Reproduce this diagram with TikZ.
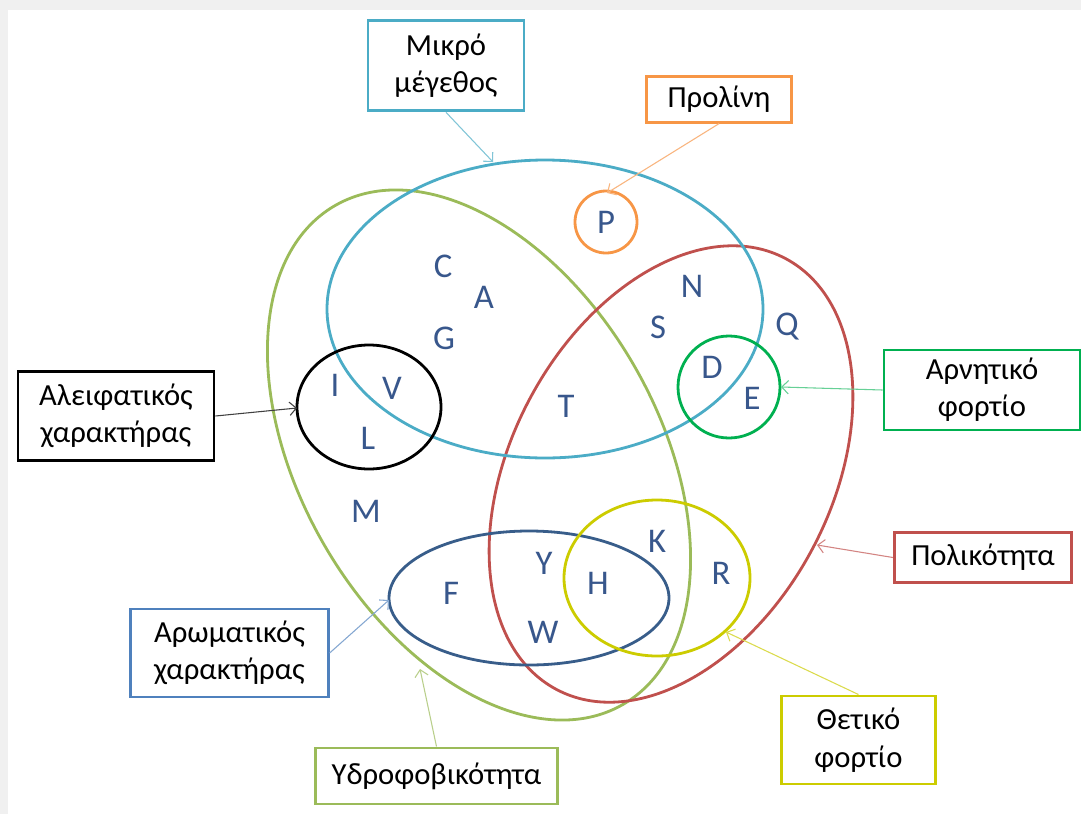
\documentclass[tikz,border=0pt]{standalone}
\usepackage{fontspec}
\setmainfont{Carlito}
\usetikzlibrary{arrows.meta}
\definecolor{smallcol}{RGB}{75,172,198}
\definecolor{prolcol}{RGB}{247,150,70}
\definecolor{negcol}{RGB}{0,176,80}
\definecolor{polcol}{RGB}{192,80,77}
\definecolor{poscol}{RGB}{204,204,0}
\definecolor{hydrocol}{RGB}{155,187,89}
\definecolor{aromcol}{RGB}{79,129,189}
\definecolor{aromring}{RGB}{56,93,138}
\definecolor{aacol}{RGB}{56,87,140}

\begin{document}
\begin{tikzpicture}[x=0.75pt, y=-0.75pt, ring/.style={line width=2.1pt}, tag/.style={draw, line width=2.2pt, align=center, inner sep=2pt, font=\fontsize{23}{28}\selectfont}, aa/.style={text=aacol, inner sep=0pt, font=\fontsize{26}{30}\selectfont}, pointer/.style={line width=0.8pt, -{Straight Barb[length=5pt, width=10pt]}}]
			\useasboundingbox (0,0) rectangle (1081,814);
			\fill[black!6] (0,0) rectangle (1081,814);
			\fill[white] (8,10) rectangle (1081,814);
			\draw[ring, draw=hydrocol, rotate around={-60:(479,455)}] (479,455) ellipse [x radius=288, y radius=179];
			\draw[ring, draw=polcol, rotate around={62:(671,474)}] (671,474) ellipse [x radius=244, y radius=160];
			\draw[ring, draw=smallcol] (545,309) ellipse [x radius=218, y radius=149];
			\draw[ring, draw=black] (369,407) ellipse [x radius=72, y radius=62];
			\draw[ring, draw=negcol] (729,387) circle [radius=51];
			\draw[ring, draw=prolcol] (606,222) circle [radius=31];
			\draw[ring, draw=aromring] (529,598) ellipse [x radius=140, y radius=67];
			\draw[ring, draw=poscol] (657,578) ellipse [x radius=93, y radius=78];
			\node[aa] (C) at (443,266) {C};
			\node[aa] (A) at (484,297) {A};
			\node[aa] (G) at (444,338) {G};
			\node[aa] (I) at (335,385) {I};
			\node[aa] (V) at (392,388) {V};
			\node[aa] (L) at (368,438) {L};
			\node[aa] (T) at (566,406) {T};
			\node[aa] (M) at (366,511) {M};
			\node[aa] (P) at (606,222) {P};
			\node[aa] (N) at (692,286) {N};
			\node[aa] (S) at (658,327) {S};
			\node[aa] (Q) at (787,327) {Q};
			\node[aa] (D) at (712,367) {D};
			\node[aa] (E) at (752,398) {E};
			\node[aa] (K) at (657,541) {K};
			\node[aa] (Y) at (544,563) {Y};
			\node[aa] (H) at (598,583) {H};
			\node[aa] (R) at (721,573) {R};
			\node[aa] (F) at (451,593) {F};
			\node[aa] (W) at (543,632) {W};
			\node[tag, draw=smallcol, minimum width=117pt, minimum height=68pt] (small) at (446,65.5) {Μικρό\\μέγεθος};
			\node[tag, draw=prolcol, minimum width=109pt, minimum height=34pt] (prol) at (719,99.5) {Προλίνη};
			\node[tag, draw=black, minimum width=147pt, minimum height=67pt] (aliph) at (116,416) {Αλειφατικός\\χαρακτήρας};
			\node[tag, draw=negcol, minimum width=147pt, minimum height=60pt] (neg) at (982,390) {Αρνητικό\\φορτίο};
			\node[tag, draw=polcol, minimum width=133pt, minimum height=38pt] (pol) at (983,557.5) {Πολικότητα};
			\node[tag, draw=poscol, minimum width=116pt, minimum height=66pt] (pos) at (858.5,740) {Θετικό\\φορτίο};
			\node[tag, draw=hydrocol, minimum width=181pt, minimum height=42pt] (hydro) at (436.5,776) {Υδροφοβικότητα};
			\node[tag, draw=aromcol, minimum width=148pt, minimum height=66pt] (arom) at (229.5,653) {Αρωματικός\\χαρακτήρας};
			\coordinate (smalltip) at (493,162);
			\coordinate (proltip) at (607,193);
			\coordinate (aliphtip) at (297,408);
			\coordinate (negtip) at (781,387);
			\coordinate (poltip) at (817,545);
			\coordinate (postip) at (726,632);
			\coordinate (hydrotip) at (420,669);
			\coordinate (aromtip) at (389,600);
			\draw[pointer, draw=smallcol!70] (small.south) -- (smalltip);
			\draw[pointer, draw=prolcol!70] (prol.south) -- (proltip);
			\draw[pointer, draw=black!75] (aliph.east) -- (aliphtip);
			\draw[pointer, draw=negcol!60] (neg.west) -- (negtip);
			\draw[pointer, draw=polcol!70] (pol.west) -- (poltip);
			\draw[pointer, draw=poscol!70] (pos.north) -- (postip);
			\draw[pointer, draw=hydrocol!70] (hydro.north) -- (hydrotip);
			\draw[pointer, draw=aromcol!70] (arom.east) -- (aromtip);
\end{tikzpicture}
\end{document}
